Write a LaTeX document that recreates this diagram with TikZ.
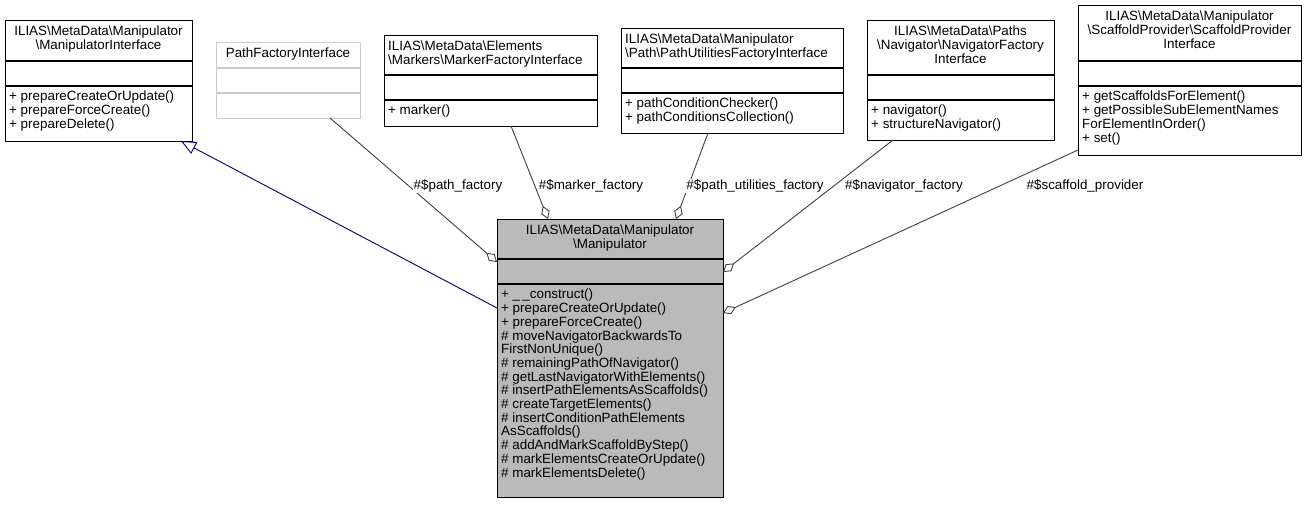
\documentclass[tikz,border=0pt]{standalone}
\usepackage{fontspec}
\setmainfont{Liberation Sans}
\usetikzlibrary{arrows.meta,calc}
\begin{document}
\begin{tikzpicture}[x=1bp,y=-1bp,
  every node/.style={font=\fontsize{13.4bp}{13.7bp}\selectfont, inner sep=0pt},
  box/.style={draw=black, line width=1.2bp},
  gbox/.style={draw=black!20, line width=1.2bp},
  ttl/.style={align=center, anchor=north},
  mth/.style={align=left, anchor=north west},
  agg/.style={draw=black!75, line width=0.9bp, -{Diamond[open,length=14bp,width=9bp]}},
  inh/.style={draw=blue!40!black, line width=0.9bp, -{Triangle[open,length=15bp,width=13bp]}},
  lbl/.style={fill=white, inner sep=1bp}]
\useasboundingbox (0,0) rectangle (1307,507);
% ManipulatorInterface
\node[box, minimum width=187bp, minimum height=121bp, anchor=north west] (mi) at (5,20) {};
\draw[box] (5,61) -- (192,61) (5,86) -- (192,86);
\node[ttl] (mit) at (98.5,26) {ILIAS\textbackslash MetaData\textbackslash Manipulator\\\textbackslash ManipulatorInterface};
\node[mth] (mim) at (9,91) {+ prepareCreateOrUpdate()\\+ prepareForceCreate()\\+ prepareDelete()};
% PathFactoryInterface
\node[gbox, minimum width=144bp, minimum height=76bp, anchor=north west] (pf) at (216,42) {};
\draw[gbox] (216,68) -- (360,68) (216,93) -- (360,93);
\node[ttl] (pft) at (288,48) {PathFactoryInterface};
% MarkerFactory
\node[box, minimum width=213bp, minimum height=91bp, anchor=north west] (mf) at (384,35) {};
\draw[box] (384,75) -- (597,75) (384,100) -- (597,100);
\node[mth] (mft) at (388,41) {ILIAS\textbackslash MetaData\textbackslash Elements\\\textbackslash Markers\textbackslash MarkerFactoryInterface};
\node[mth] (mfm) at (388,105) {+ marker()};
% PathUtilities
\node[box, minimum width=222bp, minimum height=105bp, anchor=north west] (pu) at (621,28) {};
\draw[box] (621,68) -- (843,68) (621,93) -- (843,93);
\node[mth] (put) at (625,34) {ILIAS\textbackslash MetaData\textbackslash Manipulator\\\textbackslash Path\textbackslash PathUtilitiesFactoryInterface};
\node[mth] (pum) at (625,98) {+ pathConditionChecker()\\+ pathConditionsCollection()};
% NavigatorFactory
\node[box, minimum width=187bp, minimum height=120bp, anchor=north west] (nf) at (867,20) {};
\draw[box] (867,75) -- (1054,75) (867,100) -- (1054,100);
\node[ttl] (nft) at (960.5,26) {ILIAS\textbackslash MetaData\textbackslash Paths\\\textbackslash Navigator\textbackslash NavigatorFactory\\Interface};
\node[mth] (nfm) at (871,105) {+ navigator()\\+ structureNavigator()};
% ScaffoldProvider
\node[box, minimum width=223bp, minimum height=150bp, anchor=north west] (sp) at (1078,5) {};
\draw[box] (1078,61) -- (1301,61) (1078,86) -- (1301,86);
\node[ttl] (spt) at (1189.5,11) {ILIAS\textbackslash MetaData\textbackslash Manipulator\\\textbackslash ScaffoldProvider\textbackslash ScaffoldProvider\\Interface};
\node[mth] (spm) at (1082,91) {+ getScaffoldsForElement()\\+ getPossibleSubElementNames\\ForElementInOrder()\\+ set()};
% Manipulator
\node[box, fill=black!27, minimum width=226bp, minimum height=278bp, anchor=north west] (m) at (497,219) {};
\draw[box] (497,259) -- (723,259) (497,284) -- (723,284);
\node[ttl] (mt) at (610,225) {ILIAS\textbackslash MetaData\textbackslash Manipulator\\\textbackslash Manipulator};
\node[mth] (mm) at (501,289) {+ \_\,\_construct()\\+ prepareCreateOrUpdate()\\+ prepareForceCreate()\\\# moveNavigatorBackwardsTo\\FirstNonUnique()\\\# remainingPathOfNavigator()\\\# getLastNavigatorWithElements()\\\# insertPathElementsAsScaffolds()\\\# createTargetElements()\\\# insertConditionPathElements\\AsScaffolds()\\\# addAndMarkScaffoldByStep()\\\# markElementsCreateOrUpdate()\\\# markElementsDelete()};
% connectors
\coordinate (a0) at (497,308); \coordinate (a1) at (181,141);
\draw[inh] (a0) -- (a1);
\coordinate (b0) at (330,118); \coordinate (b1) at (497,262);
\draw[agg] (b0) -- (b1);
\node[lbl] (bl) at (458,186) {\#\$path\_factory};
\coordinate (c0) at (511,126); \coordinate (c1) at (548,219);
\draw[agg] (c0) -- (c1);
\node[lbl] (cl) at (591,186) {\#\$marker\_factory};
\coordinate (d0) at (708,133); \coordinate (d1) at (676,219);
\draw[agg] (d0) -- (d1);
\node[lbl] (dl) at (755,186) {\#\$path\_utilities\_factory};
\coordinate (e0) at (893,140); \coordinate (e1) at (723,272);
\draw[agg] (e0) -- (e1);
\node[lbl] (el) at (904,186) {\#\$navigator\_factory};
\coordinate (f0) at (1078,150); \coordinate (f1) at (723,313);
\draw[agg] (f0) -- (f1);
\node[lbl] (fl) at (1085,186) {\#\$scaffold\_provider};
\end{tikzpicture}
\end{document}
